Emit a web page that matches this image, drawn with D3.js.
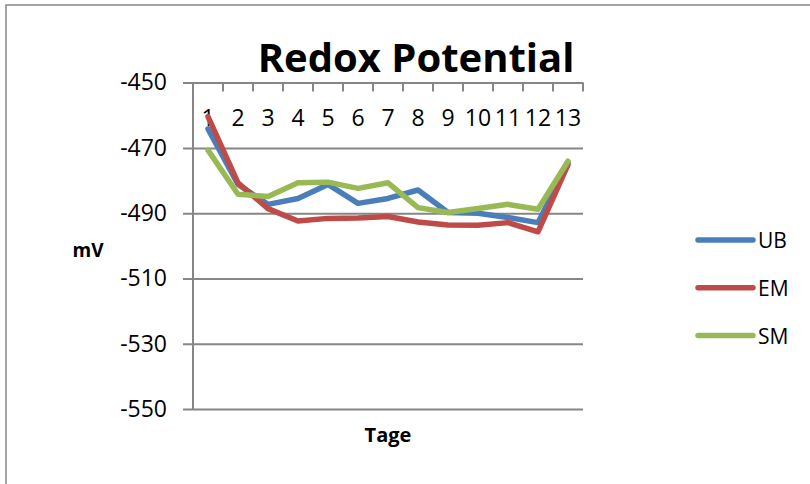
<!DOCTYPE html>
<html>
<head>
<meta charset="utf-8">
<script src="https://cdn.jsdelivr.net/npm/d3@7"></script>
<style>
  body { margin: 0; background: #fff; }
  text { font-family: 'Open Sans', sans-serif; fill: #000; }
</style>
</head>
<body>
<div id="chart"></div>
<script>
const days = ['1', '2', '3', '4', '5', '6', '7', '8', '9', '10', '11', '12', '13']
const ub = [-464.2, -481.2, -487.3, -485.5, -481.2, -487.0, -485.5, -482.9, -489.8, -490.0, -491.3, -492.9, -474.5]
const em = [-460.4, -480.7, -488.6, -492.4, -491.6, -491.5, -491.0, -492.7, -493.6, -493.7, -492.9, -495.7, -475.1]
const sm = [-470.7, -484.2, -484.9, -480.7, -480.5, -482.4, -480.7, -488.3, -489.8, -488.6, -487.3, -488.8, -474.1]
const yTicks = [-450, -470, -490, -510, -530, -550]

const series = [
    {name: 'UB', values: ub, color: '#4a7ebb'},
    {name: 'EM', values: em, color: '#be4b48'},
    {name: 'SM', values: sm, color: '#98b954'}
]

const width = 810
const height = 484
const grey = '#868686'

const svg = d3.select('#chart')
    .append('svg')
    .attr('width', width)
    .attr('height', height)

// outer chart frame
svg.append('rect')
    .attr('x', 6)
    .attr('y', 5)
    .attr('width', 900)
    .attr('height', 600)
    .attr('fill', 'none')
    .attr('stroke', grey)
    .attr('stroke-width', 1.5)

const x = d3.scaleBand()
    .domain(days)
    .range([193, 583])
    .padding(0)

const y = d3.scaleLinear()
    .domain([-550, -450])
    .range([409, 82.6])

// gridlines + value labels (plain hyphen like the original)
const yAxis = svg.append('g')
    .attr('transform', 'translate(183,0)')
    .call(d3.axisLeft(y)
        .tickValues(yTicks)
        .tickFormat(d => String(d))
        .tickSize(-(x.range()[1] - 183))
        .tickPadding(16))

yAxis.select('.domain').remove()
yAxis.selectAll('line')
    .attr('stroke', grey)
    .attr('stroke-width', 2)
yAxis.selectAll('text')
    .attr('font-size', 23)
    .attr('font-family', 'Open Sans')

// left axis line
svg.append('line')
    .attr('x1', x.range()[0])
    .attr('x2', x.range()[0])
    .attr('y1', y(-450))
    .attr('y2', y(-550))
    .attr('stroke', grey)
    .attr('stroke-width', 2)

// category axis on top
svg.selectAll('line.cat-tick')
    .data(days)
    .enter()
    .append('line')
    .attr('class', 'cat-tick')
    .attr('x1', d => x(d) + x.bandwidth())
    .attr('x2', d => x(d) + x.bandwidth())
    .attr('y1', y(-450))
    .attr('y2', y(-450) + 9)
    .attr('stroke', grey)
    .attr('stroke-width', 2)

const xAxis = svg.append('g')
    .attr('transform', `translate(0,${y(-450)})`)
    .call(d3.axisBottom(x).tickSize(0).tickPadding(27))

xAxis.select('.domain').remove()
xAxis.selectAll('text')
    .attr('font-size', 23)
    .attr('font-family', 'Open Sans')

// lines
const line = d3.line()
    .x((d, i) => x(days[i]) + x.bandwidth() / 2)
    .y(d => y(d))

svg.selectAll('path.series')
    .data(series)
    .enter()
    .append('path')
    .attr('class', 'series')
    .attr('d', d => line(d.values))
    .attr('fill', 'none')
    .attr('stroke', d => d.color)
    .attr('stroke-width', 5.5)
    .attr('stroke-linejoin', 'round')
    .attr('stroke-linecap', 'round')

// title and axis titles
svg.append('text')
    .attr('x', 416)
    .attr('y', 72)
    .attr('text-anchor', 'middle')
    .attr('font-size', 40)
    .attr('font-weight', 'bold')
    .text('Redox Potential')

svg.append('text')
    .attr('x', 88)
    .attr('y', 257)
    .attr('text-anchor', 'middle')
    .attr('font-size', 19)
    .attr('font-weight', 'bold')
    .text('mV')

svg.append('text')
    .attr('x', (x.range()[0] + x.range()[1]) / 2)
    .attr('y', 442)
    .attr('text-anchor', 'middle')
    .attr('font-size', 20)
    .attr('font-weight', 'bold')
    .text('Tage')

// legend
const legend = svg.selectAll('g.legend')
    .data(series)
    .enter()
    .append('g')
    .attr('class', 'legend')
    .attr('transform', (d, i) => `translate(698,${240 + i * 47.8})`)

legend.append('line')
    .attr('x1', 0)
    .attr('x2', 55)
    .attr('stroke', d => d.color)
    .attr('stroke-width', 5.5)
    .attr('stroke-linecap', 'round')

legend.append('text')
    .attr('x', 60)
    .attr('y', 8)
    .attr('font-size', 21)
    .text(d => d.name)
</script>
</body>
</html>
